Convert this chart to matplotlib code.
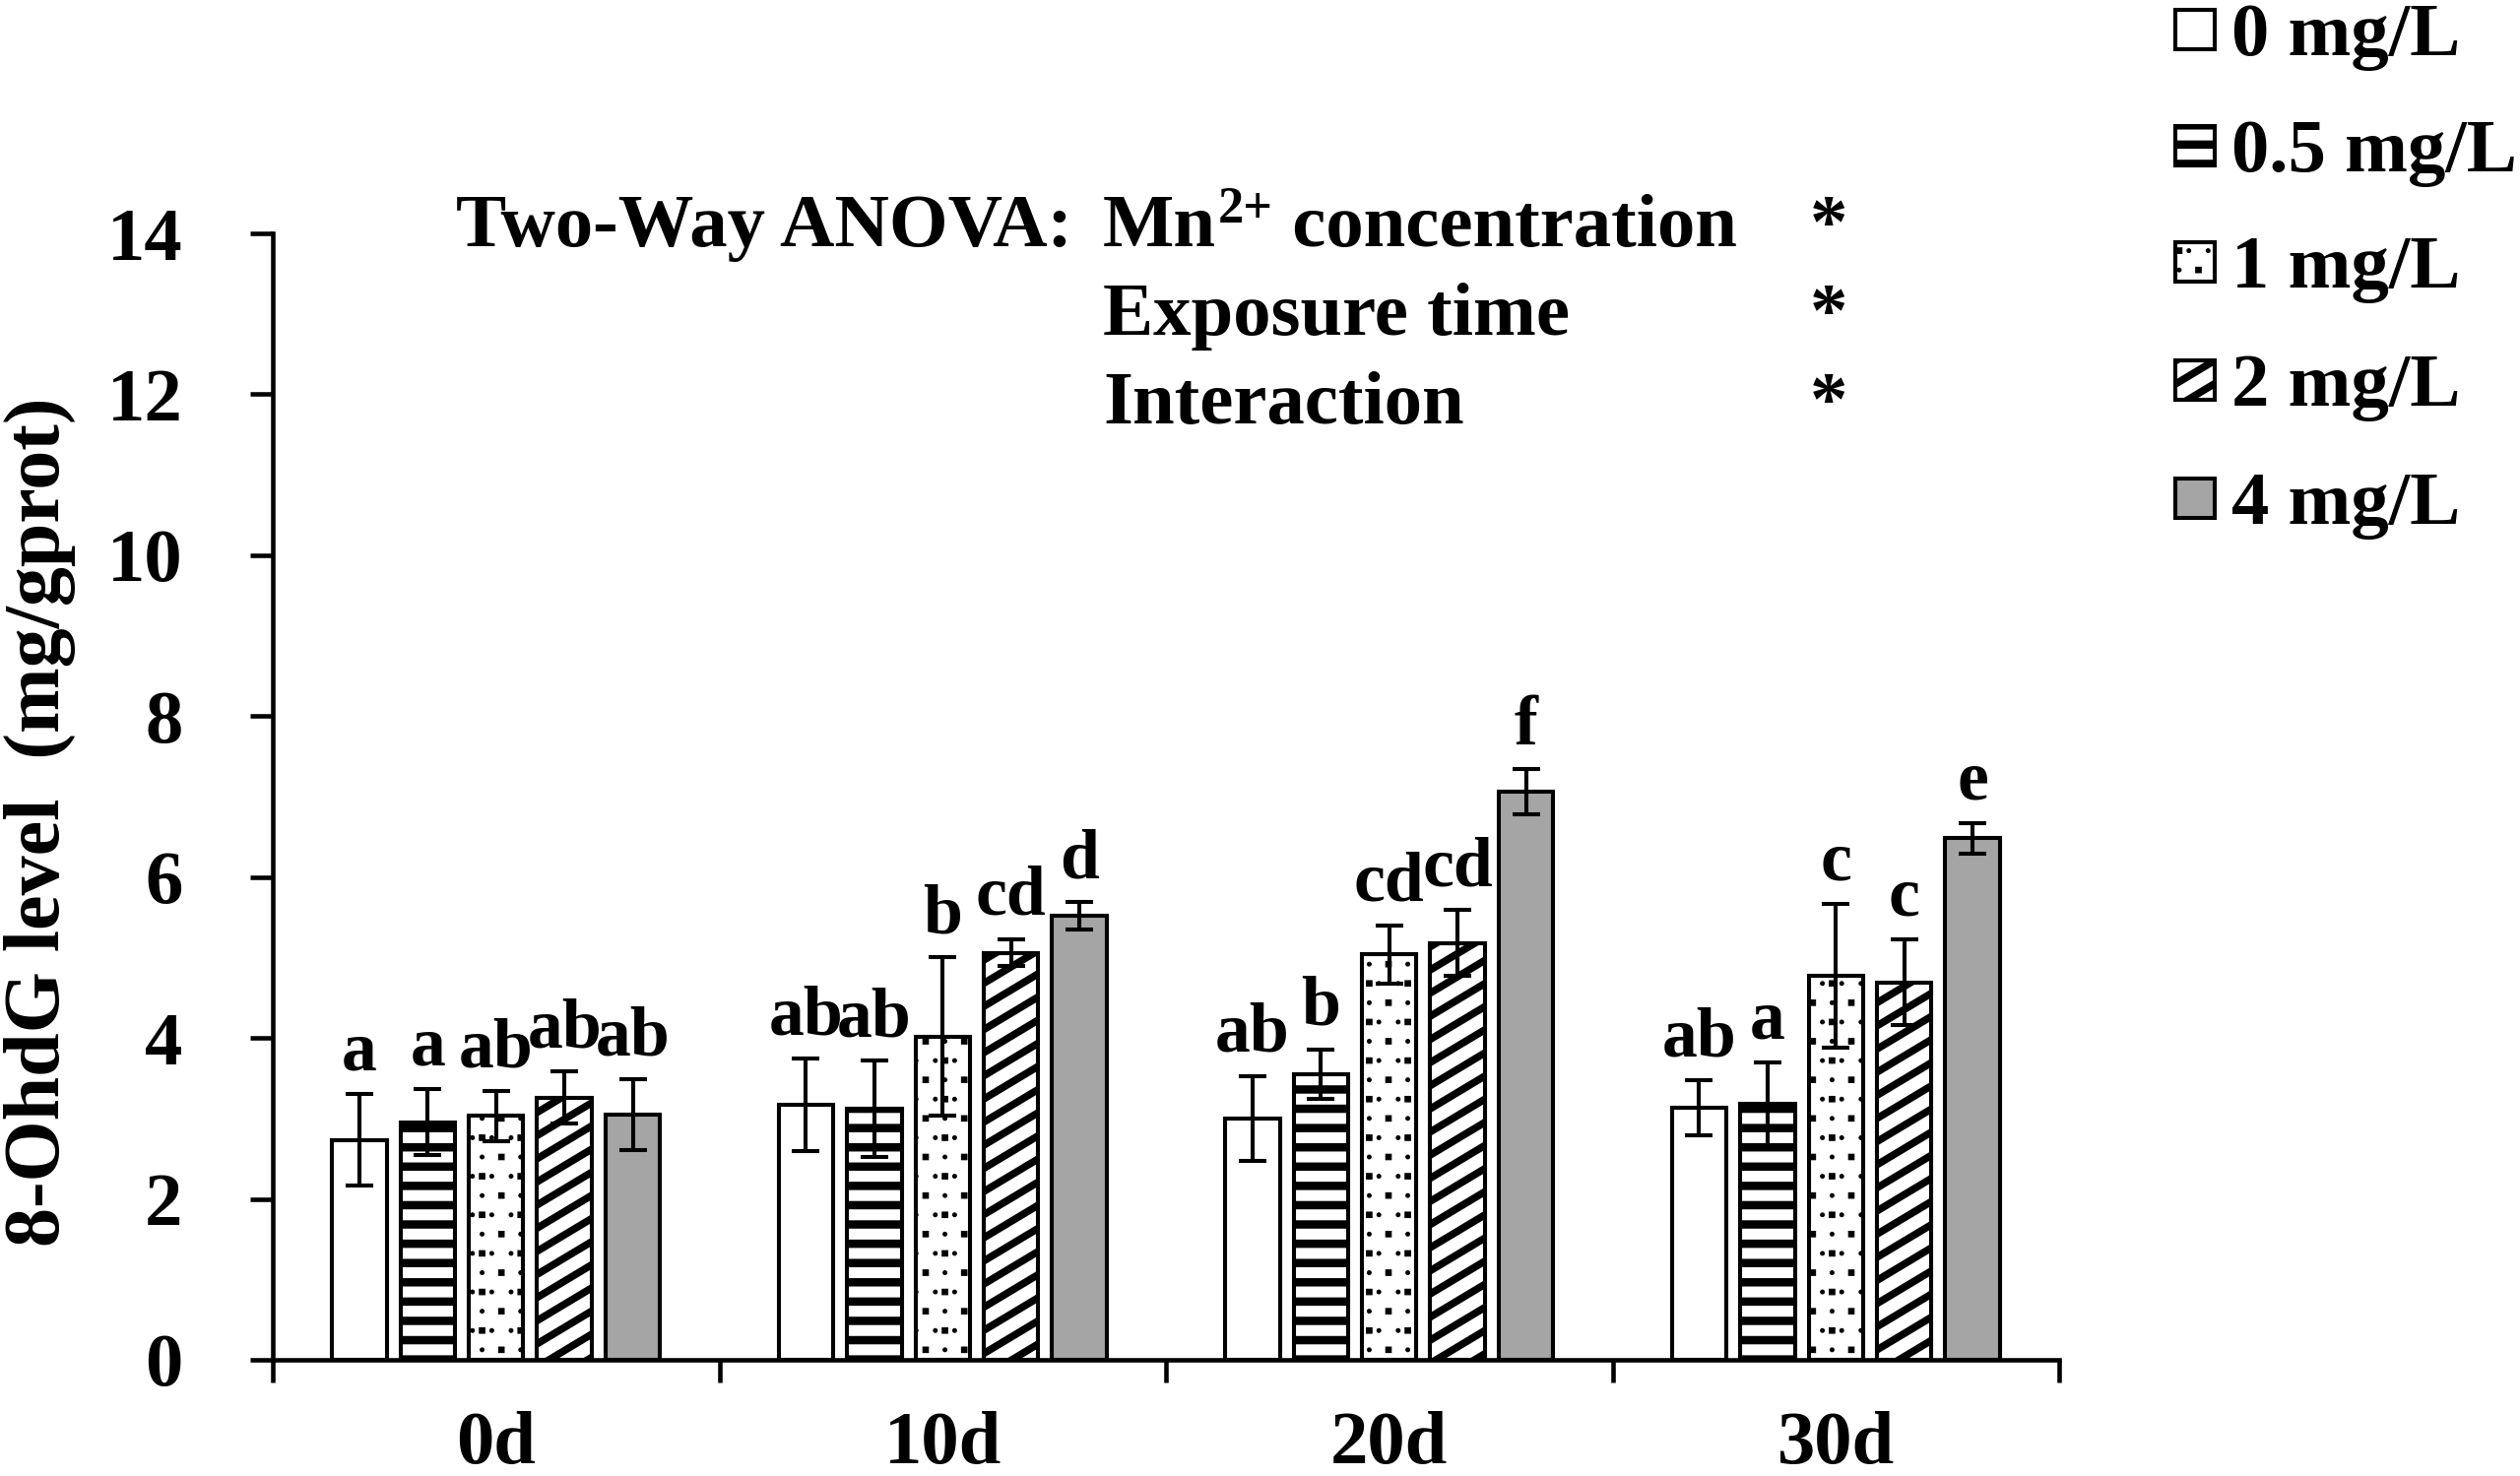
import numpy as np
import matplotlib
matplotlib.use("Agg")
import matplotlib.pyplot as plt
import matplotlib.hatch as mhatch
from matplotlib.path import Path
from matplotlib.patches import Rectangle

# ---------------- data ----------------
days = ["0d", "10d", "20d", "30d"]
conc_labels = ["0 mg/L", "0.5 mg/L", "1 mg/L", "2 mg/L", "4 mg/L"]

mean_0 = [2.73, 3.17, 3.00, 3.13]
err_0 = [0.57, 0.57, 0.53, 0.34]
mean_05 = [2.95, 3.12, 3.55, 3.18]
err_05 = [0.41, 0.60, 0.31, 0.51]
mean_1 = [3.03, 4.02, 5.04, 4.77]
err_1 = [0.31, 0.98, 0.36, 0.89]
mean_2 = [3.26, 5.06, 5.18, 4.69]
err_2 = [0.32, 0.17, 0.41, 0.53]
mean_4 = [3.05, 5.52, 7.06, 6.48]
err_4 = [0.44, 0.17, 0.28, 0.19]

let_0 = ["a", "ab", "ab", "ab"]
let_05 = ["a", "ab", "b", "a"]
let_1 = ["ab", "b", "cd", "c"]
let_2 = ["ab", "cd", "cd", "c"]
let_4 = ["ab", "d", "f", "e"]

anova_title = "Two-Way ANOVA: "
anova_terms = ["Exposure time", "Interaction"]
anova_sig = ["*", "*", "*"]

means = [mean_0, mean_05, mean_1, mean_2, mean_4]
errs = [err_0, err_05, err_1, err_2, err_4]
letters = [let_0, let_05, let_1, let_2, let_4]


# ---------- custom hatch patterns ----------
class StaggeredDots(mhatch.HatchPatternBase):
    """Sparse staggered small squares (used for '.')."""
    size = 0.024

    def __init__(self, hatch, density):
        self.n = hatch.count('.') * density
        rect = Path.unit_rectangle()
        self.shape_vertices = rect.vertices - 0.5
        self.shape_codes = rect.codes
        if self.n == 0:
            self.num_vertices = 0
            return
        self.centers = []
        ncol = max(self.n // 2, 1)
        for r in range(self.n + 1):
            y = r / self.n
            if r % 2 == 0:
                xs = np.linspace(0, 1, ncol + 1)
            else:
                xs = (np.arange(ncol) + 0.5) / ncol
            for xx in xs:
                self.centers.append((xx, y))
        self.num_vertices = len(self.centers) * len(self.shape_vertices)

    def set_vertices_and_codes(self, vertices, codes):
        sv = self.shape_vertices * self.size
        vparts, cparts = [], []
        for (cx, cy) in self.centers:
            vparts.append(sv + [cx, cy])
            cparts.append(self.shape_codes)
        np.concatenate(vparts, out=vertices)
        np.concatenate(cparts, out=codes)


class ShallowDiagonal(mhatch.HatchPatternBase):
    """Upward diagonal stripes with a shallower slope (used for '/')."""
    slope = 0.6

    def __init__(self, hatch, density):
        cnt = hatch.count('/') + hatch.count('x') + hatch.count('X')
        if cnt == 0:
            self.num_vertices = 0
            return
        self.spacing = 0.1 / cnt
        nlo = int(np.floor(-self.slope / self.spacing)) - 2
        nhi = int(np.ceil(1.0 / self.spacing)) + 2
        self.offsets = [k * self.spacing for k in range(nlo, nhi + 1)]
        self.num_vertices = 2 * len(self.offsets)

    def set_vertices_and_codes(self, vertices, codes):
        x0, x1 = -0.05, 1.05
        v = []
        for c in self.offsets:
            v.append((x0, c + self.slope * x0))
            v.append((x1, c + self.slope * x1))
        vertices[:] = np.array(v)
        codes[0::2] = Path.MOVETO
        codes[1::2] = Path.LINETO


_new = []
for t in mhatch._hatch_types:
    if t is mhatch.SmallCircles:
        _new.append(StaggeredDots)
    elif t is mhatch.NorthEastHatch:
        _new.append(ShallowDiagonal)
    else:
        _new.append(t)
mhatch._hatch_types[:] = _new

# ---------------- style ----------------
DPI = 235
W, H = 2559, 1499
plt.rcParams["font.family"] = ["Liberation Serif", "DejaVu Serif"]
plt.rcParams["font.weight"] = "bold"
plt.rcParams["hatch.color"] = "black"

styles = [
    dict(facecolor="white", hatch=None, hlw=1.0),
    dict(facecolor="white", hatch="--", hlw=2.6),
    dict(facecolor="white", hatch="..", hlw=0.3),
    dict(facecolor="white", hatch="/", hlw=2.3),
    dict(facecolor="#a5a5a5", hatch=None, hlw=1.0),
]

fig = plt.figure(figsize=(W / DPI, H / DPI), dpi=DPI)
ax = fig.add_axes([277 / W, 1 - 1381 / H, (2091 - 277) / W, (1381 - 237) / H])

x = np.arange(len(days))
bar_w = 0.122
step = 0.153
edge_lw = 1.25
FS = 23.5

for i in range(5):
    pos = x + (i - 2) * step
    st = styles[i]
    with plt.rc_context({"hatch.linewidth": st["hlw"]}):
        bars = ax.bar(pos, means[i], width=bar_w, facecolor=st["facecolor"],
                      edgecolor="black", linewidth=edge_lw, hatch=st["hatch"],
                      zorder=2)
    for b in bars:
        if hasattr(b, "set_hatch_linewidth"):
            b.set_hatch_linewidth(st["hlw"])
    ax.errorbar(pos, means[i], yerr=errs[i], fmt="none", ecolor="black",
                elinewidth=1.25, capsize=4.4, capthick=1.25, zorder=3)
    for j in range(len(days)):
        ax.text(pos[j], means[i][j] + errs[i][j] + 0.12, letters[i][j],
                ha="center", va="bottom", fontsize=22, fontweight="bold",
                zorder=4)

ax.set_xlim(-0.5, len(days) - 0.5)
ax.set_ylim(0, 14)
ax.set_yticks(np.arange(0, 15, 2))
ax.set_xticks(x)
ax.set_xticklabels(days)
ax.set_xticks(np.arange(-0.5, len(days), 1.0), minor=True)

for s in ["top", "right"]:
    ax.spines[s].set_visible(False)
ax.spines["left"].set_linewidth(1.4)
ax.spines["bottom"].set_linewidth(1.4)

ax.tick_params(axis="y", direction="out", length=7, width=1.4, pad=21,
               labelsize=FS)
ax.tick_params(axis="x", which="major", length=0, pad=16, labelsize=FS)
ax.tick_params(axis="x", which="minor", direction="out", length=7, width=1.4)
for lab in ax.get_xticklabels() + ax.get_yticklabels():
    lab.set_fontweight("bold")

# y label
fig.text(40 / W, 1 - 835 / H, "8-OhdG level  (mg/gprot)", rotation=90,
         ha="center", va="center", fontsize=24.5, fontweight="bold")

# ANOVA annotation
renderer = fig.canvas.get_renderer()
line_y = [1 - 250 / H, 1 - 340 / H, 1 - 430 / H]
term_x = 1120 / W
fig.text(463 / W, line_y[0], anova_title, ha="left", va="baseline",
         fontsize=FS, fontweight="bold")
t_mn = fig.text(term_x, line_y[0], "Mn", ha="left", va="baseline",
                fontsize=FS, fontweight="bold")
bb = t_mn.get_window_extent(renderer)
t_sup = fig.text(bb.x1 / W + 2 / W, line_y[0] + 24 / H, "2+", ha="left",
                 va="baseline", fontsize=16, fontweight="bold")
bb2 = t_sup.get_window_extent(renderer)
fig.text(bb2.x1 / W, line_y[0], " concentration", ha="left", va="baseline",
         fontsize=FS, fontweight="bold")
for k in range(2):
    fig.text(term_x, line_y[k + 1], anova_terms[k], ha="left", va="baseline",
             fontsize=FS, fontweight="bold")
for k in range(3):
    fig.text(1857 / W, line_y[k], anova_sig[k], ha="center", va="baseline",
             fontsize=FS, fontweight="bold")

# legend (manual)
box = 40
row_c = [30, 148, 266, 386, 506]
for i in range(5):
    st = styles[i]
    with plt.rc_context({"hatch.linewidth": st["hlw"]}):
        r = Rectangle((2209 / W, 1 - (row_c[i] + box / 2) / H), box / W,
                      box / H, transform=fig.transFigure,
                      facecolor=st["facecolor"], edgecolor="black",
                      linewidth=1.25, hatch=st["hatch"])
    if hasattr(r, "set_hatch_linewidth"):
        r.set_hatch_linewidth(st["hlw"])
    fig.add_artist(r)
    fig.text(2266 / W, 1 - row_c[i] / H, conc_labels[i], ha="left",
             va="center_baseline", fontsize=FS, fontweight="bold")

fig.savefig("out.png", dpi=DPI, facecolor="white")
